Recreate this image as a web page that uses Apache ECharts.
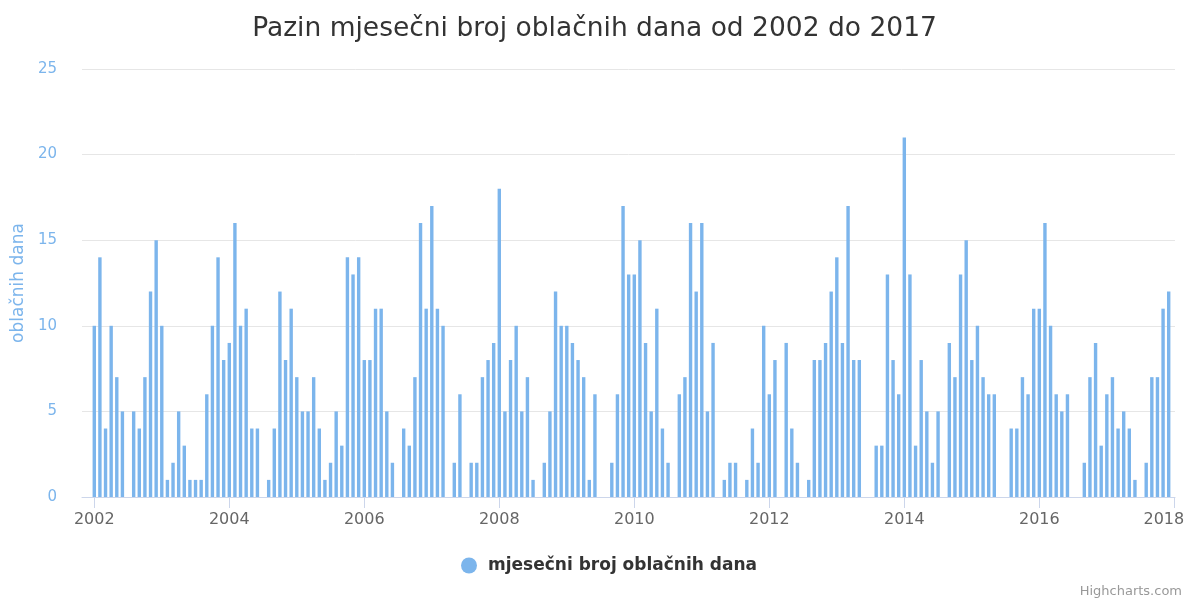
<!DOCTYPE html>
<html>
<head>
<meta charset="utf-8">
<script src="https://cdn.jsdelivr.net/npm/echarts@6/dist/echarts.min.js"></script>
<style>
  html, body { margin: 0; padding: 0; background: #fff; }
  #main { width: 1189px; height: 599px; }
</style>
</head>
<body>
<div id="main"></div>
<script>
// mjesečni broj oblačnih dana, po godinama (sij - pro)
var years = [2002, 2003, 2004, 2005, 2006, 2007, 2008, 2009, 2010, 2011, 2012, 2013, 2014, 2015, 2016, 2017];
var y2002 = [10, 14, 4, 10, 7, 5, 0, 5, 4, 7, 12, 15];
var y2003 = [10, 1, 2, 5, 3, 1, 1, 1, 6, 10, 14, 8];
var y2004 = [9, 16, 10, 11, 4, 4, 0, 1, 4, 12, 8, 11];
var y2005 = [7, 5, 5, 7, 4, 1, 2, 5, 3, 14, 13, 14];
var y2006 = [8, 8, 11, 11, 5, 2, 0, 4, 3, 7, 16, 11];
var y2007 = [17, 11, 10, 0, 2, 6, 0, 2, 2, 7, 8, 9];
var y2008 = [18, 5, 8, 10, 5, 7, 1, 0, 2, 5, 12, 10];
var y2009 = [10, 9, 8, 7, 1, 6, 0, 0, 2, 6, 17, 13];
var y2010 = [13, 15, 9, 5, 11, 4, 2, 0, 6, 7, 16, 12];
var y2011 = [16, 5, 9, 0, 1, 2, 2, 0, 1, 4, 2, 10];
var y2012 = [6, 8, 0, 9, 4, 2, 0, 1, 8, 8, 9, 12];
var y2013 = [14, 9, 17, 8, 8, 0, 0, 3, 3, 13, 8, 6];
var y2014 = [21, 13, 3, 8, 5, 2, 5, 0, 9, 7, 13, 15];
var y2015 = [8, 10, 7, 6, 6, 0, 0, 4, 4, 7, 6, 11];
var y2016 = [11, 16, 10, 6, 5, 6, 0, 0, 2, 7, 9, 3];
var y2017 = [6, 7, 4, 5, 4, 1, 0, 2, 7, 7, 11, 12];
var monthly = [y2002, y2003, y2004, y2005, y2006, y2007, y2008, y2009,
               y2010, y2011, y2012, y2013, y2014, y2015, y2016, y2017];
var yearTicks = [2002, 2004, 2006, 2008, 2010, 2012, 2014, 2016, 2018];

// x = godina + mjesec/12
var seriesData = [];
for (var i = 0; i < years.length; i++) {
    for (var m = 0; m < 12; m++) {
        seriesData.push([years[i] + m / 12, monthly[i][m]]);
    }
}

var font = '"DejaVu Sans", "Noto Sans", sans-serif';
var myChart = echarts.init(document.getElementById('main'));
var option = {
    animation: false,
    textStyle: { fontFamily: font },
    title: {
        text: 'Pazin mjesečni broj oblačnih dana od 2002 do 2017',
        left: 'center',
        top: 11,
        textStyle: { color: '#333333', fontSize: 26.5, fontWeight: 'normal', fontFamily: font }
    },
    legend: {
        left: 456,
        top: 552,
        icon: 'circle',
        itemWidth: 16,
        itemHeight: 16,
        textStyle: {
            color: '#333333', fontSize: 17, fontWeight: 'bold', fontFamily: font,
            padding: [0, 0, 0, 6]
        },
        data: ['mjesečni broj oblačnih dana']
    },
    grid: {
        left: 82,
        right: 14,
        top: 69,
        bottom: 599 - 497,
        containLabel: false,
        outerBoundsMode: 'none'
    },
    xAxis: {
        type: 'value',
        min: 2001.818,
        max: 2018.01,
        axisLine: { lineStyle: { color: '#ccd6eb' } },
        axisTick: {
            show: true,
            length: 11,
            lineStyle: { color: '#ccd6eb' },
            customValues: yearTicks
        },
        axisLabel: {
            color: '#666666',
            fontSize: 16,
            margin: 15,
            fontFamily: font,
            customValues: yearTicks,
            formatter: function (v) {
                var y = Math.round(v);
                return y === 2018 ? '{last|' + y + '}' : String(y);
            },
            rich: {
                last: { color: '#666666', fontSize: 16, fontFamily: font, padding: [0, 21, 0, 0] }
            }
        },
        splitLine: { show: false }
    },
    yAxis: {
        type: 'value',
        min: 0,
        max: 25,
        interval: 5,
        name: 'oblačnih dana',
        nameLocation: 'middle',
        nameGap: 53,
        nameTextStyle: { color: '#7cb5ec', fontSize: 17, fontFamily: font },
        axisLine: { show: false },
        axisTick: { show: false },
        axisLabel: { color: '#7cb5ec', fontSize: 15, margin: 25, fontFamily: font },
        splitLine: { lineStyle: { color: '#e6e6e6' } }
    },
    series: [{
        name: 'mjesečni broj oblačnih dana',
        type: 'bar',
        data: seriesData,
        barWidth: 3.4,
        itemStyle: { color: '#7cb5ec' }
    }],
    graphic: [{
        type: 'text',
        right: 7,
        top: 585,
        style: { text: 'Highcharts.com', fill: '#999999', font: '13px ' + font }
    }]
};
myChart.setOption(option);
</script>
</body>
</html>
